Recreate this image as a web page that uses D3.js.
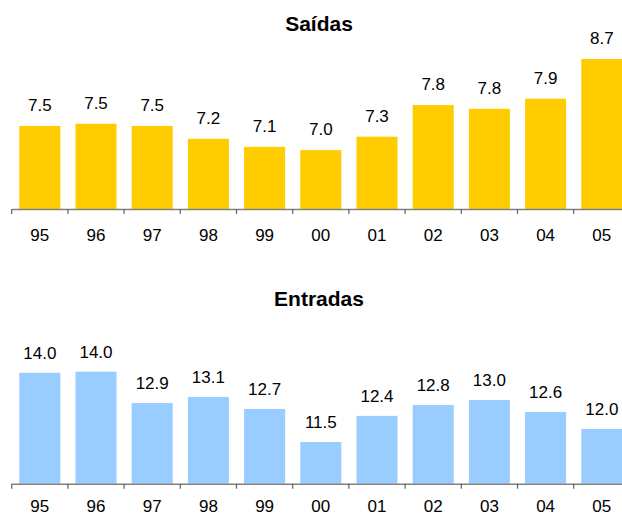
<!DOCTYPE html>
<html>
<head>
<meta charset="utf-8">
<script src="https://cdn.jsdelivr.net/npm/d3@7"></script>
<style>
  body { margin: 0; background: #fff; }
  text { font-family: Arial, "Liberation Sans", sans-serif; }
</style>
</head>
<body>
<svg id="chart" width="622" height="516"></svg>
<script>
// data ----------------------------------
const years = ['95', '96', '97', '98', '99', '00', '01', '02', '03', '04', '05'];

const saidasValues = [7.45, 7.49, 7.45, 7.21, 7.06, 7.0, 7.25, 7.84, 7.77, 7.96, 8.7];
const saidasLabels = ['7.5', '7.5', '7.5', '7.2', '7.1', '7.0', '7.3', '7.8', '7.8', '7.9', '8.7'];

const entradasValues = [13.99, 14.03, 12.9, 13.12, 12.69, 11.5, 12.44, 12.83, 13.01, 12.58, 11.97];
const entradasLabels = ['14.0', '14.0', '12.9', '13.1', '12.7', '11.5', '12.4', '12.8', '13.0', '12.6', '12.0'];

const svg = d3.select('#chart');

const x = d3.scaleBand().domain(years)
    .range([11.7, 629.9])
    .paddingInner(0.27)
    .paddingOuter(0.135);

function panel(opts) {
    const g = svg.append('g');
    const y = d3.scaleLinear().domain(opts.domain).range([opts.base, opts.top]);

    g.append('text')
        .attr('x', 319).attr('y', opts.titleY)
        .attr('text-anchor', 'middle')
        .style('font-size', '21px').style('font-weight', 'bold')
        .text(opts.title);

    g.selectAll('rect.bar').data(opts.values).join('rect')
        .attr('class', 'bar')
        .attr('x', (d, i) => x(years[i]))
        .attr('width', x.bandwidth())
        .attr('y', d => y(d))
        .attr('height', d => y(opts.domain[0]) - y(d))
        .attr('fill', opts.color);

    g.selectAll('text.val').data(opts.values).join('text')
        .attr('class', 'val')
        .attr('x', (d, i) => x(years[i]) + x.bandwidth() / 2)
        .attr('y', d => y(d) - opts.labelGap)
        .attr('text-anchor', 'middle')
        .style('font-size', '17px')
        .text((d, i) => opts.labels[i]);

    // axis with labels, ticks between categories drawn below
    const axis = g.append('g')
        .attr('transform', 'translate(0,' + y(opts.domain[0]) + ')')
        .call(d3.axisBottom(x).tickSize(0).tickSizeOuter(0).tickPadding(opts.pad));
    axis.select('.domain').attr('stroke', '#808080').attr('stroke-width', 1.5);
    axis.selectAll('text').style('font-size', '17px').attr('fill', '#000')
        .style('font-family', 'Arial, "Liberation Sans", sans-serif');

    const bounds = years.map(d => x(d) - x.paddingOuter() * x.step());
    axis.selectAll('line.sep').data(bounds).join('line')
        .attr('class', 'sep')
        .attr('x1', d => d).attr('x2', d => d)
        .attr('y1', 0).attr('y2', 5)
        .attr('stroke', '#606060').attr('stroke-width', 1.2);
}

panel({
    title: 'Saídas', titleY: 31, values: saidasValues, labels: saidasLabels,
    domain: [5.9, 8.7], base: 209, top: 59, color: '#FFCC00', labelGap: 15, pad: 20
});

panel({
    title: 'Entradas', titleY: 306, values: entradasValues, labels: entradasLabels,
    domain: [10, 14], base: 483.7, top: 372.5, color: '#99CCFF', labelGap: 14, pad: 16.5
});
</script>
</body>
</html>
